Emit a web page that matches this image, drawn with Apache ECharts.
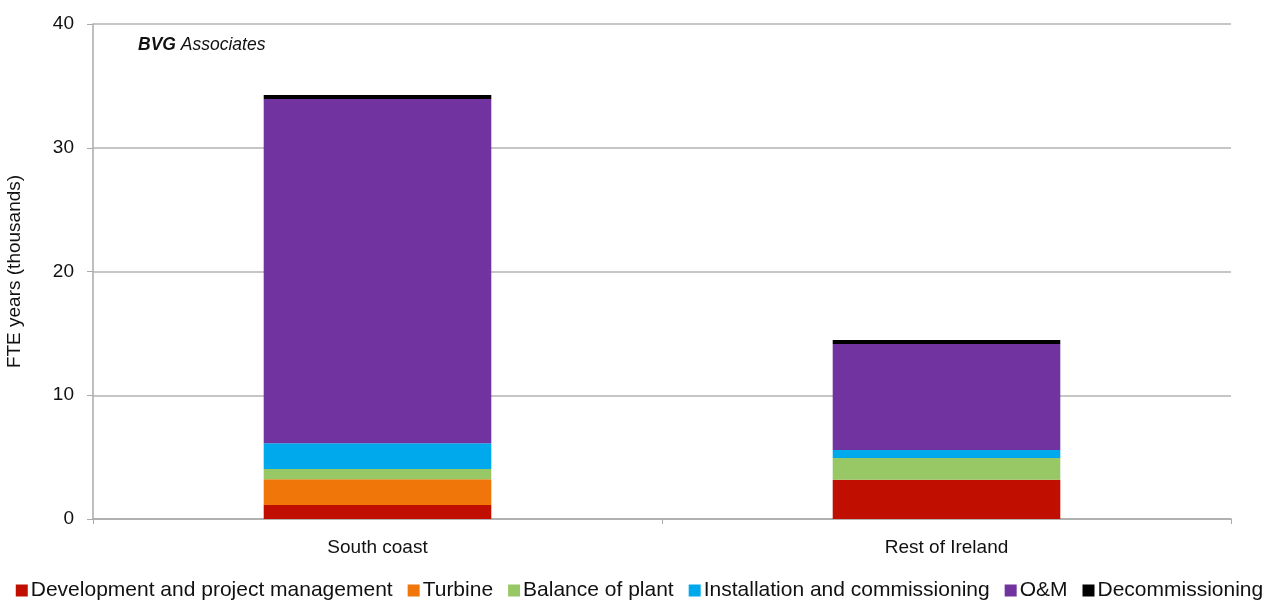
<!DOCTYPE html>
<html>
<head>
<meta charset="utf-8">
<style>
  html, body { margin: 0; padding: 0; background: #fff; }
  #chart { width: 1279px; height: 600px; }
</style>
<script src="https://cdn.jsdelivr.net/npm/echarts@6/dist/echarts.min.js"></script>
</head>
<body>
<div id="chart"></div>
<script>
// Regions on the category axis
const categories = ['South coast', 'Rest of Ireland'];

// FTE years (thousands) by supply chain stage
const development = [1.13, 3.18];
const turbine = [2.08, 0];
const balanceOfPlant = [0.83, 1.75];
const installation = [2.08, 0.65];
const operations = [27.82, 8.57];
const decommissioning = [0.32, 0.32];

const seriesNames = [
  'Development and project management',
  'Turbine',
  'Balance of plant',
  'Installation and commissioning',
  'O&M',
  'Decommissioning'
];
const seriesValues = [development, turbine, balanceOfPlant, installation, operations, decommissioning];
const seriesColors = ['#C00F00', '#F0760A', '#98C865', '#00A8EC', '#7033A0', '#000000'];

const yTicks = [0, 10, 20, 30, 40];

const chart = echarts.init(document.getElementById('chart'));
const font = 'Liberation Sans, Arial, sans-serif';

chart.setOption({
  animation: false,
  textStyle: { fontFamily: font },
  grid: { left: 93, right: 48, top: 24, bottom: 81, outerBoundsMode: 'none' },
  legend: {
    top: 575,
    left: 'center',
    itemWidth: 12,
    itemHeight: 12,
    itemGap: 15,
    icon: 'rect',
    textStyle: { fontSize: 21, color: '#111', fontFamily: font, padding: [0, 0, 0, -2] },
    data: seriesNames
  },
  graphic: [{
    type: 'text',
    left: 138,
    top: 36,
    style: {
      text: '{b|BVG} Associates',
      font: 'italic 17.5px ' + font,
      fill: '#111',
      rich: { b: { fontWeight: 'bold', fontStyle: 'italic', fontSize: 17.5, fontFamily: font, fill: '#111' } }
    }
  }],
  xAxis: {
    type: 'category',
    data: categories,
    axisLine: { lineStyle: { color: '#aaaaaa', width: 1.5 } },
    axisTick: { show: true, length: 5, lineStyle: { color: '#aaaaaa' } },
    axisLabel: { fontSize: 19, color: '#111', margin: 19 }
  },
  yAxis: {
    type: 'value',
    min: yTicks[0],
    max: yTicks[yTicks.length - 1],
    interval: 10,
    name: 'FTE years (thousands)',
    nameLocation: 'middle',
    nameGap: 69,
    nameTextStyle: { fontSize: 19, color: '#111' },
    axisLine: { show: true, lineStyle: { color: '#aaaaaa', width: 1.5 } },
    axisTick: { show: true, length: 6, lineStyle: { color: '#aaaaaa' } },
    axisLabel: { fontSize: 19, color: '#111', margin: 19, verticalAlign: 'middle', padding: [3, 0, 0, 0] },
    splitLine: { lineStyle: { color: '#b3b3b3', width: 1.5 } }
  },
  series: seriesNames.map((name, i) => ({
    name: name,
    type: 'bar',
    stack: 'total',
    barWidth: '40%',
    itemStyle: { color: seriesColors[i] },
    data: seriesValues[i]
  }))
});
</script>
</body>
</html>
